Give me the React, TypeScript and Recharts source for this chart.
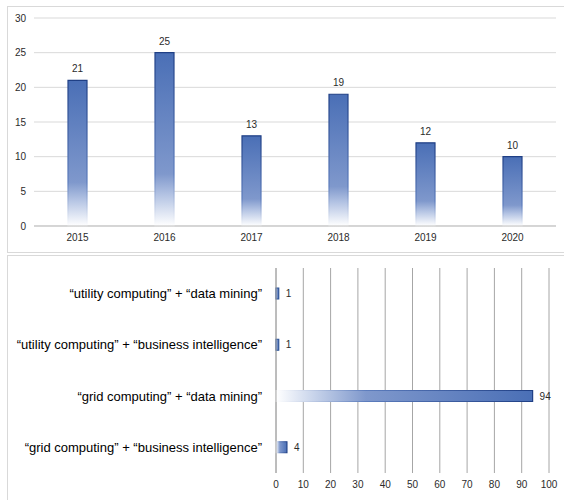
import React from "react";
import {
  BarChart,
  Bar,
  Cell,
  XAxis,
  YAxis,
  CartesianGrid,
  LabelList,
} from "recharts";

const years = ["2015", "2016", "2017", "2018", "2019", "2020"];
const papersPerYear = [21, 25, 13, 19, 12, 10];
const yearTicks = [0, 5, 10, 15, 20, 25, 30];

const queries = [
  "“utility computing” + “data mining”",
  "“utility computing” + “business intelligence”",
  "“grid computing” + “data mining”",
  "“grid computing” + “business intelligence”",
];
const queryHits = [1, 1, 94, 4];
const hitTicks = [0, 10, 20, 30, 40, 50, 60, 70, 80, 90, 100];

const yearData = years.map((year, i) => ({ year, value: papersPerYear[i] }));
const queryData = queries.map((query, i) => ({ query, value: queryHits[i] }));

const font = "'Liberation Sans', Arial, sans-serif";
const tickStyle = { fontSize: 10, fill: "#2b2b2b", fontFamily: font };

const box: React.CSSProperties = {
  position: "absolute",
  left: 7,
  width: 600,
  border: "1px solid #d9d9d9",
  boxSizing: "border-box",
};

// single-line query label, right aligned against the axis
function QueryTick({ x, y, payload }: any) {
  return (
    <text
      x={x}
      y={y}
      dy="0.35em"
      textAnchor="end"
      fontSize={13}
      fill="#000"
      fontFamily={font}
    >
      {payload.value}
    </text>
  );
}

export default function App() {
  return (
    <div
      style={{
        position: "absolute",
        top: 0,
        left: 0,
        width: 564,
        height: 500,
        overflow: "hidden",
        background: "#fff",
        fontFamily: font,
      }}
    >
      <div style={{ ...box, top: 6, height: 247 }} />
      <div style={{ ...box, top: 255, height: 260 }} />

      {/* papers per year */}
      <div style={{ position: "absolute", top: 0, left: 0 }}>
        <BarChart
          width={564}
          height={252}
          data={yearData}
          margin={{ top: 18, right: 8, bottom: 4, left: 8 }}
        >
          <defs>
            <linearGradient id="colFill" x1="0" y1="0" x2="0" y2="1">
              <stop offset="0" stopColor="#4a6fb6" />
              <stop offset="0.7" stopColor="#7f98cc" />
              <stop offset="0.82" stopColor="#b3c3e3" />
              <stop offset="1" stopColor="#ffffff" />
            </linearGradient>
            <linearGradient id="colStroke" x1="0" y1="0" x2="0" y2="1">
              <stop offset="0" stopColor="#1f3f85" />
              <stop offset="0.7" stopColor="#5d7dbd" />
              <stop offset="1" stopColor="#ffffff" />
            </linearGradient>
          </defs>
          <CartesianGrid vertical={false} stroke="#d9d9d9" />
          <XAxis
            dataKey="year"
            height={22}
            tick={tickStyle}
            tickLine={false}
            axisLine={{ stroke: "#bfbfbf" }}
          />
          <YAxis
            width={26}
            domain={[0, 30]}
            ticks={yearTicks}
            tick={tickStyle}
            tickLine={false}
            axisLine={false}
          />
          <Bar
            dataKey="value"
            barSize={19}
            fill="url(#colFill)"
            stroke="url(#colStroke)"
            strokeWidth={1.2}
            isAnimationActive={false}
          >
            <LabelList dataKey="value" position="top" offset={8} style={tickStyle} />
          </Bar>
        </BarChart>
      </div>

      {/* hits per search query */}
      <div style={{ position: "absolute", top: 255, left: 0 }}>
        <BarChart
          width={564}
          height={245}
          data={queryData}
          layout="vertical"
          margin={{ top: 13, right: 15, bottom: 7, left: 0 }}
        >
          <defs>
            <linearGradient id="rowFill" x1="0" y1="0" x2="1" y2="0">
              <stop offset="0" stopColor="#ffffff" />
              <stop offset="0.15" stopColor="#c7d3ea" />
              <stop offset="0.35" stopColor="#7f98cc" />
              <stop offset="1" stopColor="#4a6fb6" />
            </linearGradient>
            <linearGradient id="rowStroke" x1="0" y1="0" x2="1" y2="0">
              <stop offset="0" stopColor="#ffffff" />
              <stop offset="0.35" stopColor="#5d7dbd" />
              <stop offset="1" stopColor="#1f3f85" />
            </linearGradient>
          </defs>
          <CartesianGrid horizontal={false} stroke="#a6a6a6" />
          <XAxis
            type="number"
            domain={[0, 100]}
            ticks={hitTicks}
            interval={0}
            height={20}
            tick={tickStyle}
            tickLine={false}
            axisLine={false}
          />
          <YAxis
            type="category"
            dataKey="query"
            width={276}
            tickLine={false}
            tickMargin={8}
            axisLine={{ stroke: "#a6a6a6" }}
            tick={<QueryTick />}
          />
          <Bar
            dataKey="value"
            barSize={11}
            fill="url(#rowFill)"
            strokeWidth={1.2}
            isAnimationActive={false}
          >
            {queryData.map((d) => (
              // hairline bars keep a solid outline so they stay visible
              <Cell key={d.query} stroke={d.value > 2 ? "url(#rowStroke)" : "#2f5597"} />
            ))}
            <LabelList dataKey="value" position="right" offset={7} style={tickStyle} />
          </Bar>
        </BarChart>
      </div>
    </div>
  );
}
